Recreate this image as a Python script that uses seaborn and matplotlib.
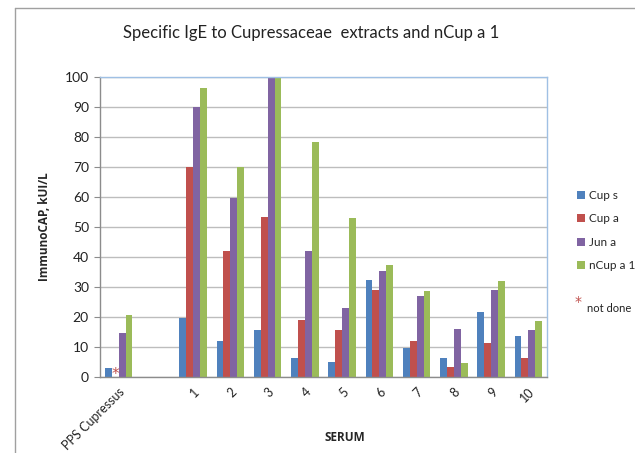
import matplotlib
matplotlib.use("Agg")
import matplotlib.pyplot as plt
import seaborn as sns
import pandas as pd
import numpy as np
from matplotlib.patches import Patch
from matplotlib.lines import Line2D

# Serum labels (second slot is an empty spacer column)
categories = ["PPS Cupressus", " ", "1", "2", "3", "4", "5", "6", "7", "8", "9", "10"]
series = ["Cup s", "Cup a", "Jun a", "nCup a 1"]

cup_s = [3.0, np.nan, 19.5, 12.1, 15.7, 6.4, 4.9, 32.3, 9.7, 6.4, 21.5, 13.6]
cup_a = [np.nan, np.nan, 70.0, 42.0, 53.3, 19.1, 15.8, 28.8, 12.0, 3.2, 11.2, 6.2]
jun_a = [14.6, np.nan, 89.7, 59.7, 100.0, 41.9, 22.8, 35.2, 26.8, 16.1, 28.8, 15.8]
ncup_a1 = [20.6, np.nan, 96.2, 70.0, 100.0, 78.2, 53.0, 37.4, 28.5, 4.5, 31.9, 18.6]

colors = ["#4F81BD", "#C0504D", "#8064A2", "#9BBB59"]

rows = []
for name, vals in zip(series, [cup_s, cup_a, jun_a, ncup_a1]):
    for cat, v in zip(categories, vals):
        rows.append({"serum": cat, "extract": name, "value": v})
df = pd.DataFrame(rows)

sns.set_style("white")
plt.rcParams["font.family"] = ["Lato", "DejaVu Sans"]
BOLD_FONT = ["Open Sans", "DejaVu Sans"]

fig = plt.figure(figsize=(6.35, 4.53), dpi=100)
ax = fig.add_axes([100 / 635, 1 - 377 / 453, 447 / 635, 300.5 / 453])

bar_w = 0.74
sns.barplot(data=df, x="serum", y="value", hue="extract", order=categories,
            hue_order=series, palette=colors, width=bar_w, gap=0,
            saturation=1, errorbar=None, ax=ax, legend=False,
            linewidth=0)

ax.set_ylim(0, 100)
ax.set_xlim(-0.5, len(categories) - 0.5)
ax.set_yticks(np.arange(0, 101, 10))
ax.yaxis.grid(True, color="#BDBDBD", linewidth=1)
ax.set_axisbelow(True)

for s in ["top", "right"]:
    ax.spines[s].set_color("#9FC0E4")
    ax.spines[s].set_linewidth(1)
for s in ["left", "bottom"]:
    ax.spines[s].set_color("#8C8C8C")
    ax.spines[s].set_linewidth(1)

# category labels at centres, tick marks on the boundaries
ax.set_xticks(range(len(categories)))
ax.set_xticklabels(categories, rotation=45, ha="right", rotation_mode="anchor",
                   fontsize=9, color="#222222")
ax.tick_params(axis="x", which="major", length=0, pad=6)
ax.set_xticks(np.arange(-0.5, len(categories), 1.0), minor=True)
ax.tick_params(axis="x", which="minor", length=4, color="#8C8C8C", direction="out")
ax.tick_params(axis="y", length=4, color="#8C8C8C", direction="out", labelsize=10,
               labelcolor="#222222", pad=4, left=True)

ax.set_xlabel("SERUM", fontsize=8.5, fontweight="bold", family=BOLD_FONT)
ax.xaxis.set_label_coords(245 / 447, -54 / 300.5)
ax.set_ylabel("ImmunoCAP, kUI/L", fontsize=8.5, fontweight="bold", family=BOLD_FONT)
ax.yaxis.set_label_coords(-49 / 447, 0.5)

# asterisk marks the Cup a measurement that was not done
hue_offset = -bar_w / 2 + bar_w / 8 * 3
ax.text(0 + hue_offset, -1.5, "*", color="#C0504D", fontsize=11,
        ha="center", va="bottom", family=["DejaVu Sans"])

fig.text(311 / 635, 1 - 33 / 453, "Specific IgE to Cupressaceae  extracts and nCup a 1",
         ha="center", va="center", fontsize=12, color="#222222")

handles = [Patch(facecolor=c, edgecolor="none") for c in colors]
fig.legend(handles, series, loc="upper left", bbox_to_anchor=(577 / 635, 1 - 190 / 453),
           frameon=False, fontsize=8.5, handlelength=0.7, handleheight=0.7,
           handletextpad=0.35, labelspacing=1.05, borderaxespad=0, borderpad=0)

fig.text(578 / 635, 1 - 302 / 453, "*", color="#C0504D", fontsize=10,
         ha="center", va="center", family=["DejaVu Sans"])
fig.text(587 / 635, 1 - 308 / 453, "not done", fontsize=8, color="#222222",
         ha="left", va="center")

# outer chart frame
fig.add_artist(Line2D([15 / 635, 15 / 635], [0, 1 - 8 / 453], color="#A0A0A0",
                      linewidth=1, transform=fig.transFigure))
fig.add_artist(Line2D([15 / 635, 1], [1 - 8 / 453, 1 - 8 / 453], color="#A0A0A0",
                      linewidth=1, transform=fig.transFigure))

fig.savefig("out.png", dpi=100)
